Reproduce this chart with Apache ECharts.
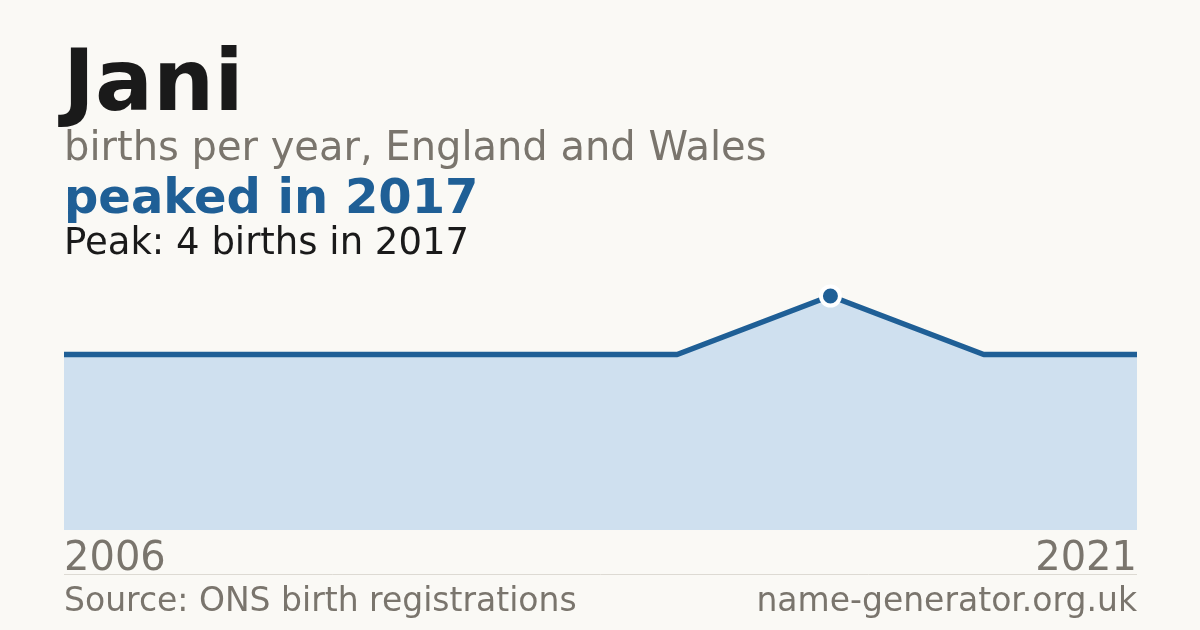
<!DOCTYPE html>
<html><head><meta charset="utf-8">
<script src="https://cdn.jsdelivr.net/npm/echarts@6/dist/echarts.min.js"></script>
<style>html,body{margin:0;padding:0;background:#faf9f5;}#c{width:1200px;height:630px;}</style>
</head><body><div id="c"></div>
<script>
const years = ['2006','2009','2011','2013','2015','2017','2019','2021'];
const births = [3,3,3,3,3,4,3,3];
const peakYear = '2017';
const peakValue = 4;
const titleText = 'Jani';
const subtitleText = 'births per year, England and Wales';
const headlineText = 'peaked in 2017';
const peakText = 'Peak: 4 births in 2017';
const sourceText = 'Source: ONS birth registrations';
const siteText = 'name-generator.org.uk';

const FONT = 'DejaVu Sans';
const BLUE = '#1f5f96';
const GREY = '#7a756d';
const chart = echarts.init(document.getElementById('c'), null, {renderer:'canvas'});
chart.setOption({
  backgroundColor: '#faf9f5',
  animation: false,
  grid: {left: 64, right: 63, top: 296, bottom: 100},
  xAxis: {
    type: 'category', data: years, boundaryGap: false,
    axisLine: {show: false}, axisTick: {show: false}, splitLine: {show: false},
    axisLabel: {
      interval: (i) => i === 0 || i === years.length - 1,
      color: GREY, fontFamily: FONT, fontSize: 40, margin: 10,
      verticalAlign: 'top',
      alignMinLabel: 'left', alignMaxLabel: 'right'
    }
  },
  yAxis: {
    type: 'value', min: 0, max: peakValue, show: false,
    splitLine: {show: false}
  },
  series: [{
    type: 'line', data: births,
    symbol: 'none',
    lineStyle: {color: BLUE, width: 5.5},
    areaStyle: {color: '#cfe0ef', opacity: 1},
    markPoint: {
      symbol: 'circle', symbolSize: 19,
      itemStyle: {color: BLUE, borderColor: '#ffffff', borderWidth: 4},
      label: {show: false},
      data: [{coord: [years.indexOf(peakYear), peakValue]}]
    }
  }],
  graphic: [
    {type: 'text', left: 63, top: 45, style: {text: titleText, font: 'bold 86px "DejaVu Sans"', fill: '#1a1a1a'}},
    {type: 'text', left: 64, top: 130, style: {text: subtitleText, font: '40px "DejaVu Sans"', fill: GREY}},
    {type: 'text', left: 64, top: 177, style: {text: headlineText, font: 'bold 48px "DejaVu Sans"', fill: BLUE}},
    {type: 'text', left: 64, top: 226, style: {text: peakText, font: '37px "DejaVu Sans"', fill: '#1a1a1a'}},
    {type: 'line', shape: {x1: 64, y1: 574.5, x2: 1137, y2: 574.5}, style: {stroke: '#dddad3', lineWidth: 1}},
    {type: 'text', left: 64, top: 586, style: {text: sourceText, font: '33px "DejaVu Sans"', fill: GREY}},
    {type: 'text', right: 63, top: 586, style: {text: siteText, font: '33px "DejaVu Sans"', fill: GREY}}
  ]
});
</script></body></html>
